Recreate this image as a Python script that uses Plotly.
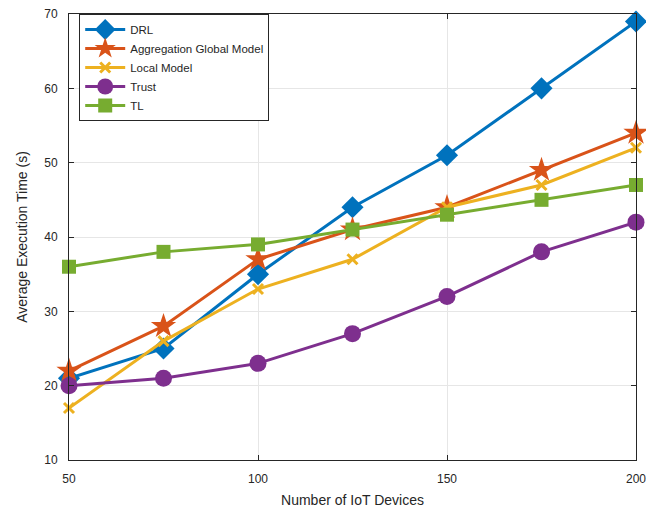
import plotly.graph_objects as go

x_vals = [50, 75, 100, 125, 150, 175, 200]
drl = [21, 25, 35, 44, 51, 60, 69]
agg = [22, 28, 37, 41, 44, 49, 54]
local = [17, 26, 33, 37, 44, 47, 52]
trust = [20, 21, 23, 27, 32, 38, 42]
tl = [36, 38, 39, 41, 43, 45, 47]

series = [
    ("DRL", drl, "#0072BD", "diamond", 17),
    ("Aggregation Global Model", agg, "#D95319", "star", 19),
    ("Local Model", local, "#EDB120", "x-thin", 10),
    ("Trust", trust, "#7E2F8E", "circle", 17),
    ("TL", tl, "#77AC30", "square", 14),
]

fig = go.Figure()
for name, ys, col, sym, sz in series:
    mk = dict(symbol=sym, size=sz, color=col)
    if sym == "x-thin":
        mk["line"] = dict(color=col, width=3)
    else:
        mk["line"] = dict(width=0)
    fig.add_trace(go.Scatter(x=x_vals, y=ys, name=name, mode="lines+markers",
                             line=dict(color=col, width=3), marker=mk, cliponaxis=False))

fig.update_layout(
    width=646, height=503,
    margin=dict(l=61, r=18, t=6, b=51, autoexpand=False),
    paper_bgcolor="white", plot_bgcolor="white",
    font=dict(family="Liberation Sans, Arial", size=12, color="#262626"),
    legend=dict(x=0.018, y=1.0, xanchor="left", yanchor="top",
                bgcolor="white", bordercolor="#262626", borderwidth=1,
                font=dict(size=11.5), tracegroupgap=0, itemwidth=40),
    showlegend=True,
)
fig.update_xaxes(range=[50, 200], tickvals=[50, 100, 150, 200],
                 title=dict(text="Number of IoT Devices", font=dict(size=14), standoff=9),
                 showgrid=True, gridcolor="#e6e6e6", gridwidth=1,
                 showline=True, linecolor="#262626", linewidth=1, mirror="ticks",
                 ticks="inside", ticklen=5, tickcolor="#262626", zeroline=False,
                 ticklabelstandoff=8, automargin=False, ticklabeloverflow="allow")
fig.update_yaxes(range=[10, 70], tickvals=[10, 20, 30, 40, 50, 60, 70],
                 title=dict(text="Average Execution Time (s)", font=dict(size=14), standoff=13),
                 showgrid=True, gridcolor="#e6e6e6", gridwidth=1,
                 showline=True, linecolor="#262626", linewidth=1, mirror="ticks",
                 ticks="inside", ticklen=5, tickcolor="#262626", zeroline=False,
                 ticklabelstandoff=8, automargin=False, ticklabeloverflow="allow")
fig.write_html("out.html")
